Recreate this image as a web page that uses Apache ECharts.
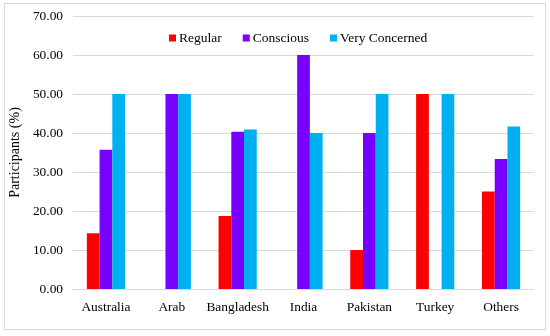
<!DOCTYPE html>
<html>
<head>
<meta charset="utf-8">
<script src="https://cdn.jsdelivr.net/npm/echarts@6/dist/echarts.min.js"></script>
<style>
html,body{margin:0;padding:0;background:#fff;}
#wrap{position:absolute;left:4px;top:3px;width:540px;height:325px;border:1px solid #d9d9d9;}
#chart{position:absolute;left:0;top:0;width:550px;height:336px;}
</style>
</head>
<body>
<div id="wrap"></div>
<div id="chart"></div>
<script>
const categories = ['Australia', 'Arab', 'Bangladesh', 'India', 'Pakistan', 'Turkey', 'Others'];
const regular = [14.29, 0, 18.75, 0, 10, 50, 25];
const conscious = [35.71, 50, 40.32, 60, 40, 0, 33.33];
const veryConcerned = [50, 50, 40.9, 40, 50, 50, 41.67];
const seriesNames = ['Regular', 'Conscious', 'Very Concerned'];
const colors = ['#ff0000', '#7700ff', '#00b0f0'];

const font = '"Liberation Serif", "Times New Roman", serif';
const chart = echarts.init(document.getElementById('chart'));
chart.setOption({
  animation: false,
  color: colors,
  textStyle: {fontFamily: font},
  legend: {
    top: 26,
    left: 164,
    itemWidth: 7,
    itemHeight: 7,
    itemGap: 21,
    icon: 'rect',
    textStyle: {fontFamily: font, fontSize: 13.5, color: '#000', padding: [0, 0, 0, -2]},
    data: seriesNames
  },
  grid: {left: 72, right: 16, top: 16, bottom: 47},
  xAxis: {
    type: 'category',
    data: categories,
    axisTick: {show: false},
    axisLine: {lineStyle: {color: '#d9d9d9', width: 1}},
    axisLabel: {color: '#000', fontSize: 13.4, fontFamily: font, margin: 12, interval: 0}
  },
  yAxis: {
    type: 'value',
    min: 0,
    max: 70,
    interval: 10,
    name: 'Participants (%)',
    nameLocation: 'middle',
    nameGap: 48,
    nameTextStyle: {color: '#000', fontSize: 14, fontFamily: font},
    axisLine: {show: false},
    axisTick: {show: false},
    splitLine: {lineStyle: {color: '#d9d9d9'}},
    axisLabel: {color: '#000', fontSize: 13.4, fontFamily: font, margin: 10,
      formatter: v => v.toFixed(2)}
  },
  series: [
    {name: seriesNames[0], type: 'bar', data: regular, barGap: '0%', barCategoryGap: '42%'},
    {name: seriesNames[1], type: 'bar', data: conscious, barGap: '0%', barCategoryGap: '42%'},
    {name: seriesNames[2], type: 'bar', data: veryConcerned, barGap: '0%', barCategoryGap: '42%'}
  ]
});
</script>
</body>
</html>
